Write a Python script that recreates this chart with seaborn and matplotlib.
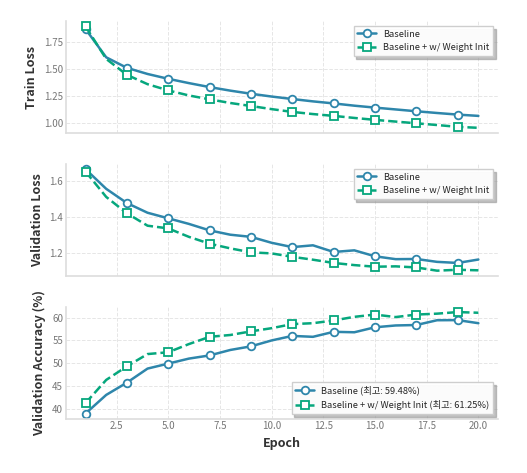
import numpy as np
import pandas as pd
import matplotlib
matplotlib.use('Agg')
import matplotlib.pyplot as plt
import seaborn as sns

# Data
epochs = list(range(1, 21))

base_train_loss = [1.873, 1.61, 1.512, 1.455, 1.41, 1.37, 1.333, 1.30, 1.271, 1.245,
                   1.222, 1.20, 1.181, 1.16, 1.142, 1.125, 1.108, 1.092, 1.077, 1.065]
init_train_loss = [1.898, 1.595, 1.447, 1.36, 1.302, 1.255, 1.219, 1.185, 1.157, 1.128,
                   1.102, 1.082, 1.065, 1.046, 1.028, 1.012, 0.996, 0.98, 0.963, 0.954]

base_val_loss = [1.664, 1.555, 1.476, 1.422, 1.391, 1.36, 1.324, 1.30, 1.288, 1.255,
                 1.231, 1.241, 1.204, 1.213, 1.18, 1.164, 1.165, 1.149, 1.143, 1.162]
init_val_loss = [1.651, 1.51, 1.419, 1.35, 1.335, 1.288, 1.25, 1.224, 1.202, 1.196,
                 1.177, 1.161, 1.143, 1.131, 1.122, 1.124, 1.118, 1.10, 1.105, 1.102]

base_val_acc = [38.9, 43.0, 45.7, 48.8, 49.9, 51.0, 51.7, 52.9, 53.7, 55.0,
                56.0, 55.8, 56.9, 56.8, 57.9, 58.3, 58.4, 59.45, 59.48, 58.8]
init_val_acc = [41.2, 46.3, 49.3, 52.0, 52.4, 54.2, 55.8, 56.2, 57.0, 57.7,
                58.6, 58.8, 59.4, 60.2, 60.7, 60.15, 60.7, 60.9, 61.25, 61.1]

labels = ['Baseline', 'Baseline + w/ Weight Init']
colors = ['#2E86AB', '#06A77D']

sns.set_theme(style='whitegrid')
plt.rcParams['font.family'] = ['Noto Sans CJK KR', 'DejaVu Sans']
plt.rcParams['axes.unicode_minus'] = False
plt.rcParams['grid.linestyle'] = '--'
plt.rcParams['grid.color'] = '#e6e6e6'
plt.rcParams['grid.linewidth'] = 0.7

fig, axes = plt.subplots(3, 1, figsize=(5.27, 4.73), dpi=100, sharex=False)
fig.subplots_adjust(left=0.125, right=0.945, top=0.955, bottom=0.115, hspace=0.28)

panels = [
    (base_train_loss, init_train_loss, 'Train Loss', 'upper right', False),
    (base_val_loss, init_val_loss, 'Validation Loss', 'upper right', False),
    (base_val_acc, init_val_acc, 'Validation Accuracy (%)', 'lower right', True),
]

for ax, (b, w, ylabel, loc, is_acc) in zip(axes, panels):
    df = pd.DataFrame({'epoch': epochs, labels[0]: b, labels[1]: w})
    sns.lineplot(data=df, x='epoch', y=labels[0], ax=ax, color=colors[0], linewidth=1.8,
                 marker='o', markevery=2, markersize=5.5, markerfacecolor='white',
                 markeredgecolor=colors[0], markeredgewidth=1.3,
                 label=labels[0] + (f' (최고: {max(b):.2f}%)' if is_acc else ''))
    sns.lineplot(data=df, x='epoch', y=labels[1], ax=ax, color=colors[1], linewidth=1.8,
                 linestyle='--', marker='s', markevery=2, markersize=5.5,
                 markerfacecolor='white', markeredgecolor=colors[1], markeredgewidth=1.3,
                 label=labels[1] + (f' (최고: {max(w):.2f}%)' if is_acc else ''))
    ax.set_ylabel(ylabel, fontsize=9, fontweight='bold', color='#333333')
    ax.set_xlabel('')
    ax.tick_params(labelsize=7, colors='#777777', length=0, pad=2)
    leg = ax.legend(loc=loc, fontsize=6.7, frameon=True,
                    shadow={'color': '#999999', 'alpha': 0.6}, fancybox=False,
                    framealpha=0.95, edgecolor='#cccccc')
    sns.despine(ax=ax)
    ax.spines['left'].set_color('#dddddd')
    ax.spines['bottom'].set_color('#dddddd')
    ax.spines['left'].set_linewidth(1.2)
    ax.spines['bottom'].set_linewidth(1.2)
    ax.set_xlim(0.05, 20.95)

axes[0].set_yticks([1.00, 1.25, 1.50, 1.75])
axes[1].set_yticks([1.2, 1.4, 1.6])
axes[2].set_yticks([40, 45, 50, 55, 60])
axes[0].tick_params(labelbottom=False)
axes[1].tick_params(labelbottom=False)
axes[2].set_xticks([2.5, 5.0, 7.5, 10.0, 12.5, 15.0, 17.5, 20.0])
axes[2].set_xlabel('Epoch', fontsize=9, fontweight='bold', color='#333333')

fig.savefig('out.png', dpi=100)
